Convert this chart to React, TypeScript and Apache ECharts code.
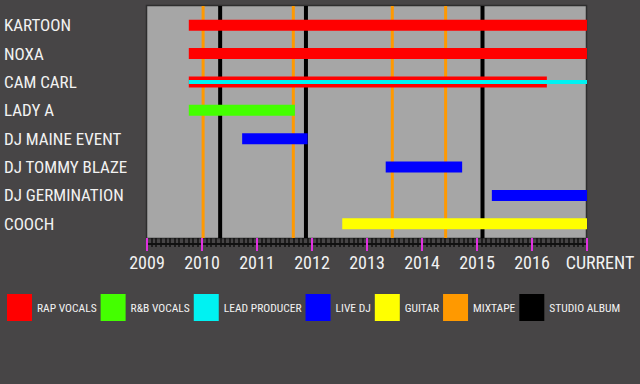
import React, { useEffect, useRef } from "react";
import * as echarts from "echarts";

const members = [
  "KARTOON",
  "NOXA",
  "CAM CARL",
  "LADY A",
  "DJ MAINE EVENT",
  "DJ TOMMY BLAZE",
  "DJ GERMINATION",
  "COOCH",
];

// [memberIndex, start, end] (2017 = current)
const rapVocals = [
  [0, 2009.76, 2017],
  [1, 2009.76, 2017],
  [2, 2009.76, 2016.27],
];
const rnbVocals = [[3, 2009.76, 2011.69]];
const leadProducer = [[2, 2009.76, 2017]];
const liveDJ = [
  [4, 2010.73, 2011.92],
  [5, 2013.34, 2014.73],
  [6, 2015.27, 2017],
];
const guitar = [[7, 2012.55, 2017]];
const mixtapes = [2010.02, 2011.66, 2013.46, 2014.43];
const studioAlbums = [2010.33, 2011.89, 2015.1];

const yearTicks = [2009, 2010, 2011, 2012, 2013, 2014, 2015, 2016, 2017];
const currentLabel = "CURRENT";

const FONT = "'Roboto Condensed', 'Liberation Sans Narrow', 'Arial Narrow', Roboto, sans-serif";
const TEXT = "#f2f2f2";
const BG = "#474546";

function barSeries(name: string, data: number[][], color: string, h: number, z: number) {
  return {
    name,
    type: "custom",
    z,
    itemStyle: { color },
    encode: { x: [1, 2], y: 0 },
    data: data.map((d) => [d[0], d[1], d[2]]),
    renderItem: (params: any, api: any) => {
      const cat = api.value(0);
      const p0 = api.coord([api.value(1), cat]);
      const p1 = api.coord([api.value(2), cat]);
      return {
        type: "rect",
        shape: { x: p0[0], y: p0[1] - h / 2, width: p1[0] - p0[0], height: h },
        style: { fill: color },
      };
    },
  };
}

function lineSeries(name: string, data: number[], color: string, w: number, z: number) {
  return {
    name,
    type: "custom",
    z,
    itemStyle: { color },
    encode: { x: 0 },
    data: data.map((v) => [v]),
    renderItem: (params: any, api: any) => {
      const cs = params.coordSys;
      const x = api.coord([api.value(0), 0])[0];
      return {
        type: "line",
        shape: { x1: x, y1: cs.y - 5, x2: x, y2: cs.y + cs.height },
        style: { stroke: color, lineWidth: w },
      };
    },
  };
}

export default function App() {
  const ref = useRef<HTMLDivElement>(null);
  useEffect(() => {
    document.body.style.margin = "0";
    document.body.style.background = BG;
    const chart = echarts.init(ref.current!, null, { renderer: "svg" });
    const legendNames = [
      "RAP VOCALS",
      "R&B VOCALS",
      "LEAD PRODUCER",
      "LIVE DJ",
      "GUITAR",
      "MIXTAPE",
      "STUDIO ALBUM",
    ];
    chart.setOption({
      animation: false,
      backgroundColor: BG,
      textStyle: { fontFamily: FONT },
      graphic: [
        {
          type: "rect",
          z: -10,
          shape: { x: 146.5, y: 5.5, width: 440, height: 233 },
          style: { fill: "#a6a6a6", stroke: "#2e2e2e", lineWidth: 1.5 },
        },
      ],
      grid: { left: 147, right: 53, top: 11, bottom: 146 },
      legend: {
        left: 7,
        top: 294,
        padding: 0,
        itemWidth: 25,
        itemHeight: 27,
        itemGap: 4,
        icon: "rect",
        data: legendNames,
        textStyle: { color: TEXT, fontSize: 11.5, fontFamily: FONT },
      },
      xAxis: [
        {
          type: "value",
          position: "bottom",
          min: yearTicks[0],
          max: yearTicks[yearTicks.length - 1],
          interval: 1,
          splitLine: { show: false },
          axisLine: { show: false },
          axisTick: { show: true, length: 13, lineStyle: { color: "#e030e0", width: 2 } },
          minorTick: { show: true, splitNumber: 12, length: 9, lineStyle: { color: "#111", width: 1.5 } },
          axisLabel: {
            color: TEXT,
            fontSize: 18,
            fontFamily: FONT,
            margin: 15,
            formatter: (v: number) =>
              v === yearTicks[yearTicks.length - 1] ? "{c|" + currentLabel + "}" : String(v),
            rich: { c: { color: TEXT, fontSize: 18, fontFamily: FONT, padding: [0, 0, 0, 26] } },
          },
        },
        {
          type: "value",
          position: "bottom",
          offset: 6,
          min: yearTicks[0],
          max: yearTicks[yearTicks.length - 1],
          interval: 1,
          splitLine: { show: false },
          axisLine: { show: true, lineStyle: { color: "#111", width: 2 } },
          axisTick: { show: false },
          axisLabel: { show: false },
        },
      ],
      yAxis: {
        type: "category",
        data: members,
        inverse: true,
        axisLine: { show: false },
        axisTick: { show: false },
        splitLine: { show: false },
        axisLabel: {
          color: TEXT,
          fontSize: 17,
          fontFamily: FONT,
          align: "left",
          margin: 143,
        },
      },
      series: [
        lineSeries("MIXTAPE", mixtapes, "#ff9900", 3, 2),
        lineSeries("STUDIO ALBUM", studioAlbums, "#000000", 4, 2),
        barSeries("RAP VOCALS", rapVocals, "#ff0000", 11, 3),
        barSeries("R&B VOCALS", rnbVocals, "#44ff00", 11, 3),
        barSeries("LEAD PRODUCER", leadProducer, "#00f2f2", 4, 4),
        barSeries("LIVE DJ", liveDJ, "#0000ff", 11, 3),
        barSeries("GUITAR", guitar, "#ffff00", 11, 3),
      ],
    });
    return () => chart.dispose();
  }, []);
  return <div ref={ref} style={{ width: 640, height: 384, background: BG }} />;
}
